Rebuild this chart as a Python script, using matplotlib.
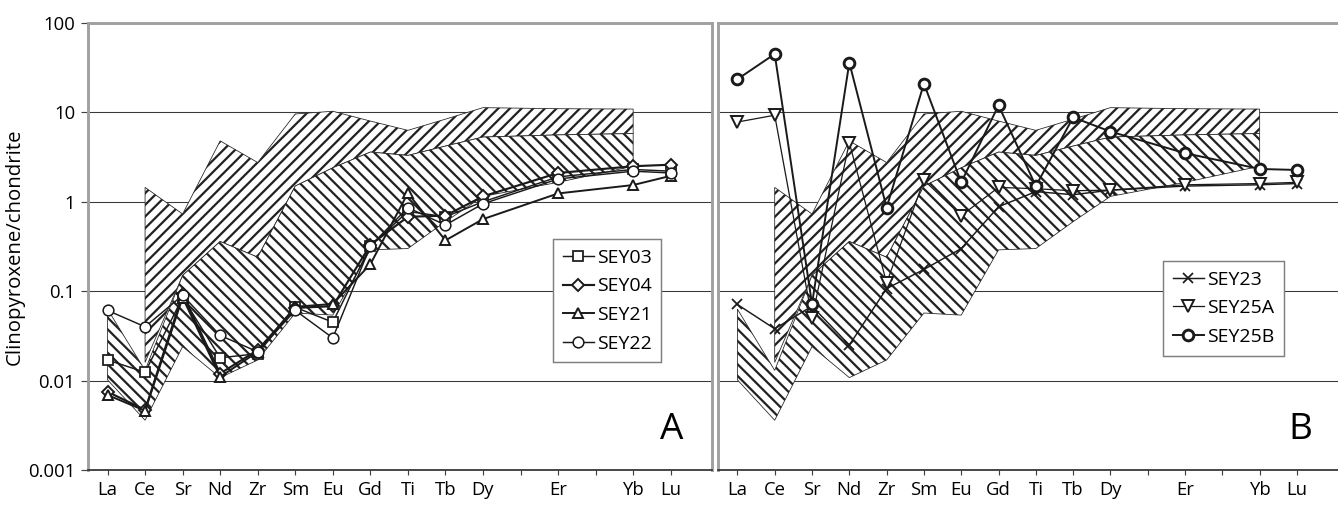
import matplotlib
matplotlib.use('Agg')
import matplotlib.pyplot as plt
from matplotlib.ticker import NullLocator

plt.rcParams['font.family'] = ['Open Sans', 'DejaVu Sans']
plt.rcParams['hatch.linewidth'] = 2.3

# x axis categories (two blank slots as in the original sheet)
elements = ['La', 'Ce', 'Sr', 'Nd', 'Zr', 'Sm', 'Eu', 'Gd', 'Ti', 'Tb', 'Dy', '', 'Er', '', 'Yb', 'Lu']
data_elements = ['La', 'Ce', 'Sr', 'Nd', 'Zr', 'Sm', 'Eu', 'Gd', 'Ti', 'Tb', 'Dy', 'Er', 'Yb', 'Lu']

# reference fields
upper_field_elements = ['Ce', 'Sr', 'Nd', 'Zr', 'Sm', 'Eu', 'Gd', 'Ti', 'Tb', 'Dy', 'Er', 'Yb']
upper_field_max = [1.45, 0.73, 4.8, 2.75, 9.6, 10.3, 8.0, 6.3, 8.4, 11.3, 11.0, 10.9]
upper_field_min = [0.016, 0.15, 0.36, 0.24, 1.5, 2.4, 3.6, 3.3, 4.2, 5.3, 5.6, 5.8]

lower_field_elements = ['La', 'Ce', 'Sr', 'Nd', 'Zr', 'Sm', 'Eu', 'Gd', 'Ti', 'Tb', 'Dy', 'Er', 'Yb']
lower_field_max = [0.063, 0.013, 0.15, 0.36, 0.24, 1.5, 2.4, 3.6, 3.3, 4.2, 5.3, 5.6, 5.8]
lower_field_min = [0.0102, 0.0036, 0.024, 0.0108, 0.017, 0.057, 0.054, 0.29, 0.30, 0.6, 1.15, 1.65, 2.5]

# panel A samples
sey03 = [0.017, 0.0124, 0.085, 0.018, 0.020, 0.066, 0.045, 0.32, 0.78, 0.68, 1.0, 1.9, 2.3, 2.2]
sey04 = [0.0075, 0.0047, 0.092, 0.012, 0.022, 0.065, 0.068, 0.33, 0.68, 0.70, 1.15, 2.1, 2.5, 2.6]
sey21 = [0.0069, 0.0046, 0.085, 0.011, 0.021, 0.067, 0.072, 0.20, 1.25, 0.37, 0.64, 1.24, 1.54, 1.95]
sey22 = [0.061, 0.040, 0.090, 0.032, 0.021, 0.061, 0.030, 0.32, 0.86, 0.55, 0.95, 1.8, 2.2, 2.1]

# panel B samples
sey23 = [0.071, 0.038, 0.068, 0.025, 0.107, 0.175, 0.30, 0.88, 1.3, 1.2, 1.35, 1.5, 1.55, 1.6]
sey25a = [7.8, 9.3, 0.05, 4.6, 0.124, 1.75, 0.70, 1.45, 1.4, 1.33, 1.35, 1.55, 1.6, 1.65]
sey25b = [23.5, 45, 0.072, 36, 0.86, 21, 1.65, 12, 1.5, 8.8, 6.1, 3.5, 2.33, 2.27]


def pos(names):
    return [elements.index(n) for n in names]


W, H, DPI = 1338, 512, 70
fig = plt.figure(figsize=(W / DPI, H / DPI), dpi=DPI)
axA = fig.add_axes([88 / W, 42 / H, 624 / W, 447 / H])
axB = fig.add_axes([718 / W, 42 / H, 620 / W, 447 / H])

ink = '#1a1a1a'
border = '#a0a0a0'

for ax in (axA, axB):
    ax.set_yscale('log')
    ax.set_ylim(0.001, 100)
    ax.set_xlim(-0.52, 16.1)
    ax.set_yticks([0.001, 0.01, 0.1, 1, 10, 100])
    ax.yaxis.set_minor_locator(NullLocator())
    ax.set_xticks(range(len(elements)))
    ax.set_xticklabels(elements, fontsize=19)
    ax.tick_params(axis='x', length=5, width=1.2, color='#404040', pad=6)
    ax.grid(axis='y', color='#3a3a3a', lw=1.1)
    for s in ('left', 'top', 'right'):
        ax.spines[s].set_color(border)
        ax.spines[s].set_linewidth(3)
    ax.spines['bottom'].set_color('#333333')
    ax.spines['bottom'].set_linewidth(1.8)

    xu = pos(upper_field_elements)
    ax.fill(xu + xu[::-1], upper_field_max + upper_field_min[::-1],
            facecolor='white', edgecolor='#222222', hatch='//', lw=0.8, zorder=2)
    xl = pos(lower_field_elements)
    ax.fill(xl + xl[::-1], lower_field_max + lower_field_min[::-1],
            facecolor='white', edgecolor='#222222', hatch='\\\\', lw=0.8, zorder=2)

axA.set_yticklabels(['0.001', '0.01', '0.1', '1', '10', '100'], fontsize=19)
axA.tick_params(axis='y', length=7, width=1.2, color='#404040', pad=6)
axA.set_ylabel('Clinopyroxene/chondrite', fontsize=21, labelpad=3)
axB.tick_params(axis='y', length=0, labelleft=False)
axB.spines['right'].set_visible(False)

xd = pos(data_elements)
axA.plot(xd, sey03, marker='s', ms=10, mew=1.8, mfc='white', mec=ink, color=ink, lw=1.5, zorder=3, label='SEY03')
axA.plot(xd, sey04, marker='D', ms=9, mew=2, mfc='white', mec=ink, color=ink, lw=2.2, zorder=3, label='SEY04')
axA.plot(xd, sey21, marker='^', ms=11, mew=2, mfc='white', mec=ink, color=ink, lw=2.0, zorder=3, label='SEY21')
axA.plot(xd, sey22, marker='o', ms=11, mew=1.6, mfc='white', mec=ink, color=ink, lw=1.5, zorder=3, label='SEY22')

axB.plot(xd, sey23, marker='x', ms=11, mew=1.8, color=ink, lw=1.5, zorder=3, label='SEY23')
axB.plot(xd, sey25a, marker='v', ms=12, mew=2, mfc='white', mec=ink, color=ink, lw=1.3, zorder=3, label='SEY25A')
axB.plot(xd, sey25b, marker='o', ms=11, mew=3, mfc='white', mec=ink, color=ink, lw=2.0, zorder=3, label='SEY25B')

for ax, anchor in ((axA, (0.745, 0.517)), (axB, (0.718, 0.468))):
    leg = ax.legend(loc='upper left', bbox_to_anchor=anchor, frameon=True, fancybox=False,
                    edgecolor='#808080', framealpha=1, fontsize=20, handlelength=1.6,
                    handletextpad=0.15, borderpad=0.5, labelspacing=0.55, borderaxespad=0)
    leg.get_frame().set_linewidth(1.5)
    leg.set_zorder(5)

axA.text(0.935, 0.09, 'A', transform=axA.transAxes, fontsize=38, ha='center', va='center')
axB.text(0.94, 0.09, 'B', transform=axB.transAxes, fontsize=38, ha='center', va='center')

fig.savefig('out.png', dpi=DPI)
